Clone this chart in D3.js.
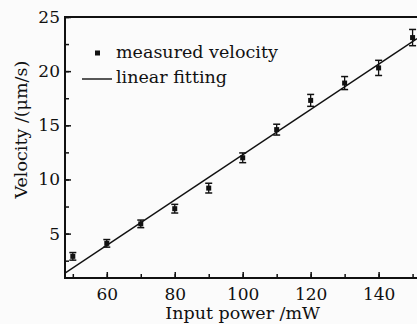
<!DOCTYPE html>
<html>
<head>
<meta charset="utf-8">
<script src="https://cdn.jsdelivr.net/npm/d3@7"></script>
<style>
  body { margin: 0; background: #fbfbfb; }
  text { font-family: "DejaVu Serif", "Liberation Serif", serif; fill: #111; }
</style>
</head>
<body>
<div id="chart"></div>
<script>
// measured points
var power = [50, 60, 70, 80, 90, 100, 110, 120, 130, 140, 150];
var velocity = [2.9, 4.1, 5.9, 7.3, 9.2, 12.0, 14.6, 17.3, 18.9, 20.3, 23.1];
var errBar = [0.35, 0.35, 0.35, 0.4, 0.45, 0.45, 0.5, 0.55, 0.6, 0.7, 0.75];
// linear fitting, ends of the line
var fitPower = [47.7, 151.3];
var fitVelocity = [1.35, 23.0];

var xTicks = [60, 80, 100, 120, 140];
var yTicks = [5, 10, 15, 20, 25];

var margin = { top: 17, right: 0, bottom: 46, left: 65 },
    width = 417 - margin.left - margin.right,
    height = 324 - margin.top - margin.bottom;

var svg = d3.select("#chart")
  .append("svg")
  .attr("width", width + margin.left + margin.right)
  .attr("height", height + margin.top + margin.bottom)
  .append("g")
  .attr("transform", "translate(" + margin.left + "," + margin.top + ")");

var x = d3.scaleLinear().domain([47.7, 151.3]).range([0, width]);
var y = d3.scaleLinear().domain([0.9, 25]).range([height, 0]);

// minor ticks (inward)
svg.append("g")
  .attr("transform", "translate(0," + height + ")")
  .call(d3.axisTop(x).tickValues(d3.range(50, 151, 10)).tickSize(4).tickFormat(""))
  .call(g => g.select(".domain").remove());
svg.append("g")
  .call(d3.axisRight(y).tickValues(d3.range(2.5, 25.1, 2.5)).tickSize(4).tickFormat(""))
  .call(g => g.select(".domain").remove());

// x axis
var xAxis = svg.append("g")
  .attr("transform", "translate(0," + height + ")")
  .call(d3.axisBottom(x).tickValues(xTicks).tickSize(0).tickPadding(10));
xAxis.select(".domain").remove();
xAxis.selectAll("text").style("font-size", "17px");
svg.append("g")
  .attr("transform", "translate(0," + height + ")")
  .call(d3.axisTop(x).tickValues(xTicks).tickSize(6).tickFormat(""))
  .call(g => g.select(".domain").remove());

// y axis
var yAxis = svg.append("g")
  .call(d3.axisLeft(y).tickValues(yTicks).tickSize(0).tickPadding(5));
yAxis.select(".domain").remove();
yAxis.selectAll("text").style("font-size", "17px");
svg.append("g")
  .call(d3.axisRight(y).tickValues(yTicks).tickSize(6).tickFormat(""))
  .call(g => g.select(".domain").remove());

svg.selectAll(".tick line").attr("stroke", "#111").attr("stroke-width", 1.5);

// frame: top, left, bottom
svg.append("path")
  .attr("d", "M" + width + ",0H0V" + height + "H" + width)
  .attr("fill", "none")
  .attr("stroke", "#111")
  .attr("stroke-width", 2);

// fitted line
var fitData = fitPower.map((p, i) => ({ p: p, v: fitVelocity[i] }));
svg.append("path")
  .datum(fitData)
  .attr("d", d3.line().x(d => x(d.p)).y(d => y(d.v)))
  .attr("fill", "none")
  .attr("stroke", "#111")
  .attr("stroke-width", 1.4);

// measured points with error bars
var pts = power.map((p, i) => ({ p: p, v: velocity[i], e: errBar[i] }));
var g = svg.selectAll(".pt").data(pts).enter().append("g").attr("class", "pt");
g.append("line")
  .attr("x1", d => x(d.p)).attr("x2", d => x(d.p))
  .attr("y1", d => y(d.v - d.e)).attr("y2", d => y(d.v + d.e))
  .attr("stroke", "#111").attr("stroke-width", 1.3);
[-1, 1].forEach(function (s) {
  g.append("line")
    .attr("x1", d => x(d.p) - 3.5).attr("x2", d => x(d.p) + 3.5)
    .attr("y1", d => y(d.v + s * d.e)).attr("y2", d => y(d.v + s * d.e))
    .attr("stroke", "#111").attr("stroke-width", 1.5);
});
g.append("rect")
  .attr("x", d => x(d.p) - 2.5).attr("y", d => y(d.v) - 2.5)
  .attr("width", 5).attr("height", 5)
  .attr("fill", "#111");

// legend
var legend = svg.append("g");
legend.append("rect")
  .attr("x", 30).attr("y", 33.5).attr("width", 5).attr("height", 5)
  .attr("fill", "#111");
legend.append("text")
  .attr("x", 51).attr("y", 41)
  .style("font-size", "17.5px")
  .text("measured velocity");
legend.append("line")
  .attr("x1", 17).attr("x2", 47).attr("y1", 62).attr("y2", 62)
  .attr("stroke", "#111").attr("stroke-width", 1.4);
legend.append("text")
  .attr("x", 51).attr("y", 66)
  .style("font-size", "17.5px")
  .text("linear fitting");

// axis titles
svg.append("text")
  .attr("x", x(100))
  .attr("y", height + 41)
  .attr("text-anchor", "middle")
  .style("font-size", "17.5px")
  .text("Input power /mW");

svg.append("text")
  .attr("transform", "rotate(-90)")
  .attr("x", -y(14.6))
  .attr("y", -38)
  .attr("text-anchor", "middle")
  .style("font-size", "17.5px")
  .text("Velocity /(μm/s)");
</script>
</body>
</html>
